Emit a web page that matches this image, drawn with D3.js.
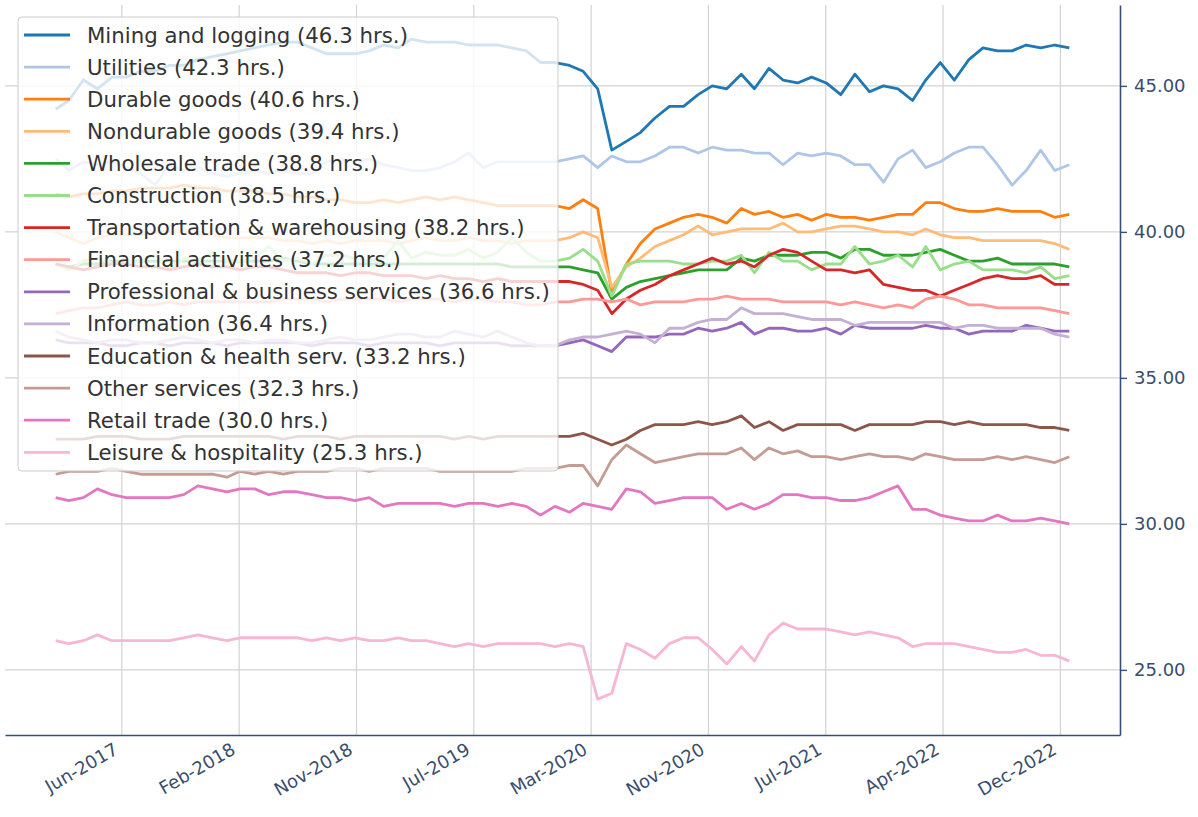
<!DOCTYPE html>
<html>
<head>
<meta charset="utf-8">
<script src="https://cdn.jsdelivr.net/npm/d3@7"></script>
<style>
  body { margin: 0; background: #fff; }
  svg { display: block; }
</style>
</head>
<body>
<div id="chart"></div>
<script>
// monthly observations, Feb 2017 .. Jan 2023
const months = d3.timeMonth.range(new Date(2017, 1, 1), new Date(2023, 1, 1))

const industries = [
  "Mining and logging", "Utilities", "Durable goods", "Nondurable goods",
  "Wholesale trade", "Construction", "Transportation & warehousing",
  "Financial activities", "Professional & business services", "Information",
  "Education & health serv.", "Other services", "Retail trade", "Leisure & hospitality"
]

const colors = ["#1f77b4", "#aec7e8", "#ff7f0e", "#ffbb78", "#2ca02c", "#98df8a", "#d62728",
  "#ff9896", "#9467bd", "#c5b0d5", "#8c564b", "#c49c94", "#e377c2", "#f7b6d2"]

const mining = [44.2,44.5,45.2,44.9,45.3,45.3,45.5,45.5,45.7,45.7, 45.9,46.0,46.1,46.2,46.3,46.4,46.5,46.5,46.3,46.1,
  46.1,46.1,46.2,46.4,46.3,46.6,46.5,46.5,46.5,46.4, 46.4,46.4,46.3,46.2,45.8, 45.8,45.7,45.5,44.9,42.8,
  43.1,43.4,43.9,44.3,44.3, 44.7,45.0,44.9,45.4,44.9, 45.6,45.2,45.1,45.3,45.1, 44.7,45.4,44.8,45.0,44.9,
  44.5,45.2,45.8,45.2,45.9, 46.3,46.2,46.2,46.4,46.3, 46.4,46.3]
const utilities = [42.5,42.1,42.4,42.3,42.4,42.2,42.0,41.6,42.3,42.1, 42.2,42.0,41.9,42.0,42.1,42.0,42.1,42.0,42.0,42.4,
  42.5,42.4,42.5,42.3,42.2,42.1,42.1,42.2,42.4,42.7, 42.2,42.4,42.4,42.4,42.4, 42.4,42.5,42.6,42.2,42.6,
  42.4,42.4,42.6,42.9,42.9, 42.7,42.9,42.8,42.8,42.7, 42.7,42.3,42.7,42.6,42.7, 42.6,42.3,42.3,41.7,42.5,
  42.8,42.2,42.4,42.7,42.9, 42.9,42.3,41.6,42.1,42.8, 42.1,42.3]
const durable = [41.3,41.2,41.3,41.3,41.4,41.4,41.5,41.5,41.5,41.6, 41.5,41.5,41.4,41.4,41.4,41.3,41.3,41.2,41.2,41.1,
  41.1,41.0,41.0,41.1,41.0,41.1,41.2,41.1,41.2,41.1, 41.0,40.9,40.9,40.9,40.9, 40.9,40.8,41.1,40.8,37.9,
  38.9,39.6,40.1,40.3,40.5, 40.6,40.5,40.3,40.8,40.6, 40.7,40.5,40.6,40.4,40.6, 40.5,40.5,40.4,40.5,40.6,
  40.6,41.0,41.0,40.8,40.7, 40.7,40.8,40.7,40.7,40.7, 40.5,40.6]
const nondurable = [40.0,39.8,39.6,39.8,39.9,39.9,39.9,40.0,40.0,40.0, 39.9,39.9,39.8,39.8,39.8,39.8,39.7,39.7,39.6,39.7,
  39.6,39.7,39.7,39.7,39.6,39.7,39.8,39.7,39.7,39.8, 39.7,39.7,39.6,39.7,39.7, 39.7,39.8,40.0,39.8,38.1,
  38.8,39.1,39.5,39.7,39.9, 40.2,39.9,40.0,40.1,40.1, 40.1,40.3,40.0,40.0,40.1, 40.2,40.2,40.1,40.0,40.0,
  39.9,40.1,39.9,39.8,39.8, 39.7,39.7,39.7,39.7,39.7, 39.6,39.4]
const wholesale = [38.9,38.8,38.9,38.9,39.0,39.0,39.0,39.0,39.0,39.0, 39.0,39.0,39.0,39.0,39.0,39.0,39.1,39.0,38.9,38.9,
  38.9,38.9,38.9,38.9,38.9,38.9,38.9,38.9,38.9,38.9, 38.9,38.9,38.8,38.8,38.8, 38.8,38.8,38.7,38.6,37.7,
  38.1,38.3,38.4,38.5,38.6, 38.7,38.7,38.7,39.1,39.0, 39.2,39.2,39.2,39.3,39.3, 39.1,39.4,39.4,39.2,39.2,
  39.2,39.3,39.4,39.2,39.0, 39.0,39.1,38.9,38.9,38.9, 38.9,38.8]
const construction = [38.9,38.7,39.0,39.1,38.9,39.0,39.0,39.2,38.7,39.1, 39.0,39.3,39.0,39.0,39.1,39.5,39.0,39.1,38.9,39.2,
  39.2,39.1,39.0,39.1,39.7,39.1,39.3,39.2,39.2,39.4, 39.1,39.3,39.8,39.3,39.0, 39.0,39.1,39.4,39.0,37.8,
  38.9,39.0,39.0,39.0,38.9, 38.9,39.0,39.0,39.2,38.6, 39.3,39.0,39.0,38.7,38.9, 38.9,39.5,38.9,39.0,39.2,
  38.8,39.5,38.7,38.9,39.0, 38.7,38.7,38.7,38.6,38.8, 38.4,38.5]
const transport = [38.9,38.8,38.7,38.8,38.9,38.9,38.8,38.8,38.7,38.8, 38.9,38.8,38.8,38.7,38.8,38.8,38.7,38.6,38.6,38.6,
  38.5,38.6,38.6,38.5,38.5,38.5,38.4,38.5,38.4,38.4, 38.3,38.4,38.3,38.3,38.3, 38.3,38.3,38.2,38.0,37.2,
  37.7,38.0,38.2,38.5,38.7, 38.9,39.1,38.9,39.0,38.8, 39.2,39.4,39.3,39.0,38.7, 38.7,38.6,38.7,38.2,38.1,
  38.0,38.0,37.8,38.0,38.2, 38.4,38.5,38.4,38.4,38.5, 38.2,38.2]
const financial = [37.2,37.3,37.4,37.4,37.5,37.6,37.5,37.5,37.6,37.5, 37.6,37.6,37.6,37.6,37.6,37.6,37.7,37.7,37.7,37.6,
  37.7,37.7,37.7,37.7,37.6,37.7,37.7,37.7,37.6,37.7, 37.7,37.6,37.6,37.5,37.5, 37.6,37.6,37.7,37.7,37.6,
  37.7,37.5,37.6,37.6,37.6, 37.7,37.7,37.8,37.7,37.7, 37.7,37.6,37.6,37.6,37.6, 37.5,37.6,37.5,37.4,37.5,
  37.4,37.7,37.8,37.7,37.5, 37.5,37.4,37.4,37.4,37.4, 37.3,37.2]
const professional = [36.3,36.2,36.2,36.2,36.1,36.1,36.2,36.2,36.1,36.2, 36.2,36.2,36.1,36.2,36.2,36.2,36.2,36.2,36.1,36.2,
  36.2,36.2,36.1,36.2,36.2,36.2,36.2,36.1,36.2,36.2, 36.2,36.2,36.1,36.1,36.1, 36.1,36.2,36.3,36.1,35.9,
  36.4,36.4,36.4,36.5,36.5, 36.7,36.6,36.7,36.9,36.5, 36.7,36.7,36.6,36.6,36.7, 36.5,36.8,36.7,36.7,36.7,
  36.7,36.8,36.7,36.7,36.5, 36.6,36.6,36.6,36.8,36.7, 36.6,36.6]
const information = [36.6,36.4,36.3,36.2,36.3,36.3,36.2,36.2,36.3,36.4, 36.3,36.2,36.3,36.3,36.2,36.3,36.3,36.2,36.2,36.3,
  36.4,36.3,36.3,36.4,36.5,36.5,36.4,36.4,36.6,36.5, 36.4,36.6,36.4,36.2,36.1, 36.1,36.3,36.4,36.4,36.5,
  36.6,36.5,36.2,36.7,36.7, 36.9,37.0,37.0,37.4,37.2, 37.2,37.2,37.1,37.0,37.0, 37.0,36.8,36.9,36.9,36.9,
  36.9,36.9,36.9,36.7,36.8, 36.8,36.7,36.7,36.7,36.7, 36.5,36.4]
const education = [32.9,32.9,32.9,33.0,33.0,33.0,32.9,32.9,32.9,33.0, 33.0,33.0,33.0,33.0,33.0,33.0,32.9,33.0,33.0,33.0,
  32.9,33.0,33.0,33.0,33.0,33.0,33.0,33.0,32.9,33.0, 32.9,33.0,33.0,33.0,33.0, 33.0,33.0,33.1,32.9,32.7,
  32.9,33.2,33.4,33.4,33.4, 33.5,33.4,33.5,33.7,33.3, 33.5,33.2,33.4,33.4,33.4, 33.4,33.2,33.4,33.4,33.4,
  33.4,33.5,33.5,33.4,33.5, 33.4,33.4,33.4,33.4,33.3, 33.3,33.2]
const other = [31.7,31.8,31.8,31.8,31.9,31.8,31.7,31.7,31.7,31.7, 31.7,31.7,31.6,31.8,31.7,31.8,31.7,31.8,31.8,31.8,
  31.9,31.9,31.8,31.9,31.9,31.9,31.9,31.8,31.8,31.8, 31.8,31.8,31.8,31.9,31.9, 31.9,32.0,32.0,31.3,32.2,
  32.7,32.4,32.1,32.2,32.3, 32.4,32.4,32.4,32.6,32.2, 32.6,32.4,32.5,32.3,32.3, 32.2,32.3,32.4,32.3,32.3,
  32.2,32.4,32.3,32.2,32.2, 32.2,32.3,32.2,32.3,32.2, 32.1,32.3]
const retail = [30.9,30.8,30.9,31.2,31.0,30.9,30.9,30.9,30.9,31.0, 31.3,31.2,31.1,31.2,31.2,31.0,31.1,31.1,31.0,30.9,
  30.9,30.8,30.9,30.6,30.7,30.7,30.7,30.7,30.6,30.7, 30.7,30.6,30.7,30.6,30.3, 30.6,30.4,30.7,30.6,30.5,
  31.2,31.1,30.7,30.8,30.9, 30.9,30.9,30.5,30.7,30.5, 30.7,31.0,31.0,30.9,30.9, 30.8,30.8,30.9,31.1,31.3,
  30.5,30.5,30.3,30.2,30.1, 30.1,30.3,30.1,30.1,30.2, 30.1,30.0]
const leisure = [26.0,25.9,26.0,26.2,26.0,26.0,26.0,26.0,26.0,26.1, 26.2,26.1,26.0,26.1,26.1,26.1,26.1,26.1,26.0,26.1,
  26.0,26.1,26.0,26.0,26.1,26.0,26.0,25.9,25.8,25.9, 25.8,25.9,25.9,25.9,25.9, 25.8,25.9,25.8,24.0,24.2,
  25.9,25.7,25.4,25.9,26.1, 26.1,25.7,25.2,25.8,25.3, 26.2,26.6,26.4,26.4,26.4, 26.3,26.2,26.3,26.2,26.1,
  25.8,25.9,25.9,25.9,25.8, 25.7,25.6,25.6,25.7,25.5, 25.5,25.3]

const seriesValues = [mining, utilities, durable, nondurable, wholesale, construction, transport,
  financial, professional, information, education, other, retail, leisure]

const tickLabels = ["Jun-2017", "Feb-2018", "Nov-2018", "Jul-2019", "Mar-2020",
  "Nov-2020", "Jul-2021", "Apr-2022", "Dec-2022"]
const yTicks = [25, 30, 35, 40, 45]

const w = 1198
const h = 817
const plot = { left: 5, right: 1120, top: 5, bottom: 735 }
const axisColor = "#34507a"
const labelColor = "#3a4d6b"
const font = "'DejaVu Sans', sans-serif"

const series = industries.map((name, i) => ({
  name: name,
  color: colors[i],
  values: seriesValues[i].map((v, j) => ({ date: months[j], value: v }))
}))

// matplotlib style 5% padding round the data
const t0 = months[0], t1 = months[months.length - 1]
const pad = (t1 - t0) * 0.05
const x = d3.scaleTime()
  .domain([new Date(+t0 - pad), new Date(+t1 + pad)])
  .range([plot.left, plot.right])

const y = d3.scaleLinear()
  .domain([22.77, 47.77])
  .range([plot.bottom, plot.top])

// tick locations every 250 days
const tickDates = tickLabels.map((d, i) => d3.timeDay.offset(new Date(2017, 5, 22), 250 * i))

const svg = d3.select('#chart').append('svg')
  .attr('width', w)
  .attr('height', h)
  .style('font-family', font)

// grid
svg.append('g')
  .selectAll('line')
  .data(tickDates).enter()
  .append('line')
    .attr('x1', d => x(d)).attr('x2', d => x(d))
    .attr('y1', plot.top).attr('y2', plot.bottom)
    .attr('stroke', '#d3d3d3')
    .attr('stroke-width', 1.2)

svg.append('g')
  .selectAll('line')
  .data(yTicks).enter()
  .append('line')
    .attr('x1', plot.left).attr('x2', plot.right)
    .attr('y1', d => y(d)).attr('y2', d => y(d))
    .attr('stroke', '#d3d3d3')
    .attr('stroke-width', 1.2)

const line = d3.line()
  .x(d => x(d.date))
  .y(d => y(d.value))

svg.append('g')
  .selectAll('path')
  .data(series).enter()
  .append('path')
    .attr('d', d => line(d.values))
    .attr('fill', 'none')
    .attr('stroke', d => d.color)
    .attr('stroke-width', 2.8)
    .attr('stroke-linejoin', 'round')

// x axis (bottom)
svg.append('g')
  .attr('transform', `translate(0,${plot.bottom})`)
  .call(d3.axisBottom(x)
    .tickValues(tickDates)
    .tickSize(0)
    .tickSizeOuter(0)
    .tickFormat((d, i) => tickLabels[i]))
  .call(g => g.select('.domain')
    .attr('stroke', axisColor)
    .attr('stroke-width', 1.6))
  .call(g => g.selectAll('.tick text')
    .attr('x', 0).attr('y', 0).attr('dy', 0)
    .attr('transform', 'translate(-3,18) rotate(-30)')
    .attr('text-anchor', 'end')
    .attr('fill', labelColor)
    .style('font-family', font)
    .style('font-size', '18px'))

// y axis (right)
svg.append('g')
  .attr('transform', `translate(${plot.right},0)`)
  .call(d3.axisRight(y)
    .tickValues(yTicks)
    .tickSize(7)
    .tickSizeOuter(0)
    .tickPadding(7)
    .tickFormat(d3.format('.2f')))
  .call(g => g.select('.domain')
    .attr('stroke', axisColor)
    .attr('stroke-width', 1.6))
  .call(g => g.selectAll('.tick line')
    .attr('stroke', axisColor)
    .attr('stroke-width', 1.4))
  .call(g => g.selectAll('.tick text')
    .attr('fill', labelColor)
    .style('font-family', font)
    .style('font-size', '18px'))

// legend
const legend = { x: 18, y: 17, width: 540, height: 454, row0: 35, rowStep: 32.1 }

const lg = svg.append('g')

lg.append('rect')
  .attr('x', legend.x)
  .attr('y', legend.y)
  .attr('width', legend.width)
  .attr('height', legend.height)
  .attr('rx', 4)
  .attr('fill', 'white')
  .attr('fill-opacity', 0.8)
  .attr('stroke', '#cccccc')
  .attr('stroke-width', 1)

const items = lg.selectAll('g.item')
  .data(series).enter()
  .append('g')
    .attr('class', 'item')
    .attr('transform', (d, i) => `translate(0,${legend.row0 + i * legend.rowStep})`)

items.append('line')
  .attr('x1', 24).attr('x2', 70)
  .attr('stroke', d => d.color)
  .attr('stroke-width', 2.8)

items.append('text')
  .attr('x', 87)
  .attr('y', 7.5)
  .attr('fill', '#333333')
  .style('font-size', '21.3px')
  .text(d => `${d.name} (${d.values[d.values.length - 1].value.toFixed(1)} hrs.)`)
</script>
</body>
</html>
